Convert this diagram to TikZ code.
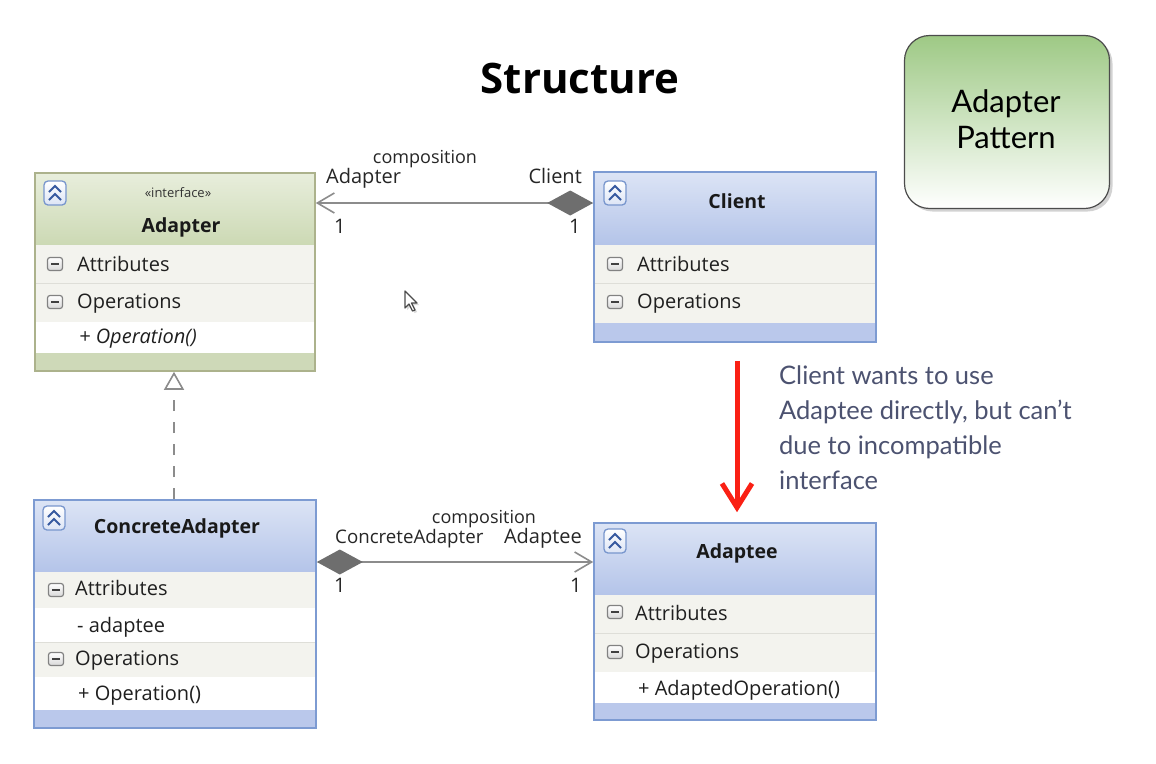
\documentclass[tikz,border=0pt]{standalone}
\usepackage{fontspec}
\setmainfont{Open Sans}
\newfontfamily\handfont{Lato}
\usetikzlibrary{arrows.meta,shadows}

\definecolor{blueborder}{RGB}{125,155,210}
\definecolor{bluetop}{RGB}{220,228,245}
\definecolor{bluebot}{RGB}{180,196,233}
\definecolor{bluebar}{RGB}{186,200,235}
\definecolor{greenborder}{RGB}{172,178,140}
\definecolor{greentop}{RGB}{232,238,220}
\definecolor{greenbot}{RGB}{204,217,180}
\definecolor{greenbar}{RGB}{206,217,184}
\definecolor{rowgray}{RGB}{243,243,238}
\definecolor{rowline}{RGB}{222,222,216}
\definecolor{linkgray}{RGB}{140,140,140}
\definecolor{diamondgray}{RGB}{110,110,110}
\definecolor{notered}{RGB}{250,32,20}
\definecolor{noteink}{RGB}{76,82,112}
\definecolor{patterngreen}{RGB}{158,201,133}
\definecolor{patternmid}{RGB}{214,233,202}
\definecolor{iconblue}{RGB}{55,90,160}
\definecolor{iconframe}{RGB}{120,150,205}
\definecolor{minusframe}{RGB}{130,130,130}

\newcommand{\rowfont}{\fontsize{20}{24}\selectfont}

% collapse button: rounded frame with a double chevron
\newcommand{\collapseicon}[1]{%
  \begin{scope}[shift={#1}]
    \draw[iconframe, line width=1.3pt, rounded corners=4pt, top color=white, bottom color=bluetop]
      (-11,-12) rectangle (11,12);
    \draw[iconblue, line width=2pt, line join=miter] (-6,-1) -- (0,-7) -- (6,-1);
    \draw[iconblue, line width=2pt, line join=miter] (-6,7) -- (0,1) -- (6,7);
  \end{scope}}
% compartment toggle: small box with a dash
\newcommand{\minusicon}[1]{%
  \begin{scope}[shift={#1}]
    \draw[minusframe, line width=1.2pt, rounded corners=2.5pt, top color=white, bottom color=black!15]
      (-7.5,-6.5) rectangle (7.5,6.5);
    \draw[black!75, line width=2pt] (-4,0) -- (4,0);
  \end{scope}}

\begin{document}
\begin{tikzpicture}[x=1pt,y=-1pt,
  classframe/.style={draw=#1, line width=1.6pt, inner sep=0pt},
  classname/.style={font=\bfseries\fontsize{19.5}{23}\selectfont, anchor=base, inner sep=0pt, text=black!90},
  rowtext/.style={font=\rowfont, anchor=base west, inner sep=0pt, text=black!88},
  rolelabel/.style={font=\fontsize{20}{24}\selectfont, anchor=base west, inner sep=0pt, text=black!85},
  link/.style={draw=linkgray, line width=2pt},
  owner/.style={{Diamond[length=46pt,width=25pt,fill=diamondgray,color=diamondgray]}-{Straight Barb[length=17pt,width=20pt,line width=1.6pt]}},
]
\useasboundingbox (0,0) rectangle (1156,763);
\fill[white] (0,0) rectangle (1156,763);

% title
\node[font=\bfseries\fontsize{42}{50}\selectfont, anchor=base, inner sep=0pt] (title) at (580,93) {Structure};

% ---------- Adapter (interface) ----------
\shade[top color=greentop, bottom color=greenbot] (35,173) rectangle (315,245);
\fill[rowgray] (35,245) rectangle (315,322);
\draw[rowline] (35,283) -- (315,283);
\fill[white] (35,322) rectangle (315,353);
\fill[greenbar] (35,353) rectangle (315,371);
\node[classframe=greenborder, minimum width=280pt, minimum height=198pt] (adapter) at (175,272) {};
\collapseicon{(55,193)}
\node[font=\fontsize{13}{15}\selectfont, anchor=base, inner sep=0pt, text=black!80] (adapterstereo) at (178,197) {«interface»};
\node[classname] (adaptername) at (181,232) {Adapter};
\minusicon{(55,264)}
\node[rowtext] (adapterattr) at (77,271) {Attributes};
\minusicon{(55,302)}
\node[rowtext] (adapterops) at (77,308) {Operations};
\node[rowtext, font=\itshape\rowfont] (adapterop) at (79,343) {+ Operation()};

% ---------- Client ----------
\shade[top color=bluetop, bottom color=bluebot] (594,172) rectangle (876,245);
\fill[rowgray] (594,245) rectangle (876,323);
\draw[rowline] (594,283) -- (876,283);
\fill[bluebar] (594,323) rectangle (876,342);
\node[classframe=blueborder, minimum width=282pt, minimum height=170pt] (client) at (735,257) {};
\collapseicon{(615,193)}
\node[classname] (clientname) at (737,208) {Client};
\minusicon{(615,264)}
\node[rowtext] (clientattr) at (637,271) {Attributes};
\minusicon{(615,302)}
\node[rowtext] (clientops) at (637,308) {Operations};

% ---------- ConcreteAdapter ----------
\shade[top color=bluetop, bottom color=bluebot] (34,500) rectangle (316,572);
\fill[rowgray] (34,572) rectangle (316,608);
\fill[white] (34,608) rectangle (316,642);
\fill[rowgray] (34,642) rectangle (316,677);
\draw[rowline] (34,642) -- (316,642);
\fill[white] (34,677) rectangle (316,710);
\fill[bluebar] (34,710) rectangle (316,728);
\node[classframe=blueborder, minimum width=282pt, minimum height=228pt] (concrete) at (175,614) {};
\collapseicon{(54,518)}
\node[classname] (concretename) at (177,533) {ConcreteAdapter};
\minusicon{(56,590)}
\node[rowtext] (concreteattr) at (75,595) {Attributes};
\node[rowtext] (concretefield) at (77,632) {- adaptee};
\minusicon{(56,659)}
\node[rowtext] (concreteops) at (75,665) {Operations};
\node[rowtext] (concreteop) at (78,700) {+ Operation()};

% ---------- Adaptee ----------
\shade[top color=bluetop, bottom color=bluebot] (594,523) rectangle (876,595);
\fill[rowgray] (594,595) rectangle (876,672);
\draw[rowline] (594,633) -- (876,633);
\fill[white] (594,672) rectangle (876,703);
\fill[bluebar] (594,703) rectangle (876,720);
\node[classframe=blueborder, minimum width=282pt, minimum height=197pt] (adaptee) at (735,621.5) {};
\collapseicon{(615,541)}
\node[classname] (adapteename) at (737,558) {Adaptee};
\minusicon{(615,612)}
\node[rowtext] (adapteeattr) at (635,620) {Attributes};
\minusicon{(615,652)}
\node[rowtext] (adapteeops) at (635,658) {Operations};
\node[rowtext] (adapteeop) at (638,695) {+ AdaptedOperation()};

% ---------- Adapter Pattern badge ----------
\node[draw=black!70, line width=1.2pt, rounded corners=25pt, minimum width=205pt, minimum height=173pt,
      top color=patterngreen, middle color=patternmid, bottom color=white,
      drop shadow={shadow xshift=3pt, shadow yshift=-3pt, opacity=0.35}] (badge) at (1007,122) {};
\node[font=\handfont\fontsize{31}{36}\selectfont, align=center, anchor=north, inner sep=0pt] (badgetext) at (1006,89) {Adapter\\Pattern};

% ---------- composition links ----------
\draw[link, owner] (client.west |- 0,203) -- (adapter.east |- 0,203);
\node[font=\fontsize{18}{22}\selectfont, anchor=base, inner sep=0pt, text=black!85] (comp1) at (425,163) {composition};
\node[rolelabel] (role1a) at (326,183) {Adapter};
\node[rolelabel, anchor=base east] (role1b) at (582,183) {Client};
\node[rolelabel] (mult1a) at (334,233) {1};
\node[rolelabel] (mult1b) at (569,233) {1};

\draw[link, owner] (concrete.east |- 0,562) -- (adaptee.west |- 0,562);
\node[font=\fontsize{18}{22}\selectfont, anchor=base, inner sep=0pt, text=black!85] (comp2) at (484,523) {composition};
\node[rolelabel, font=\fontsize{18.7}{22}\selectfont] (role2a) at (335,543) {ConcreteAdapter};
\node[rolelabel, anchor=base east] (role2b) at (582,543) {Adaptee};
\node[rolelabel] (mult2a) at (334,592) {1};
\node[rolelabel] (mult2b) at (570,592) {1};

% ---------- realization ----------
\draw[linkgray, line width=1.6pt, dash pattern=on 11pt off 11pt,
      -{Triangle[open, length=18pt, width=20pt, fill=white, line width=1.6pt]}]
  (concrete.north -| 174,0) -- (adapter.south -| 174,0);

% ---------- red note arrow ----------
\draw[notered, line width=5pt, shorten <=18pt, shorten >=10pt,
      -{Straight Barb[length=24pt, width=30pt, line width=5pt]}]
  (client.south -| 737,0) -- (adaptee.north -| 737,0);
\node[font=\handfont\fontsize{25.5}{35}\selectfont, text=noteink, align=left, anchor=north west, inner sep=0pt] (note) at (779,366)
  {Client wants to use\\Adaptee directly, but can’t\\due to incompatible\\interface};

% mouse pointer
\fill[black!15] (407,293) -- (407,310) -- (411,306) -- (414.5,313) -- (417,312) -- (413.5,305) -- (419,305) -- cycle;
\draw[fill=white, draw=black!70, line width=1.2pt, line join=round]
  (405,291) -- (405,308) -- (409,304) -- (412.5,311) -- (415,310) -- (411.5,303) -- (417,303) -- cycle;
\end{tikzpicture}
\end{document}
